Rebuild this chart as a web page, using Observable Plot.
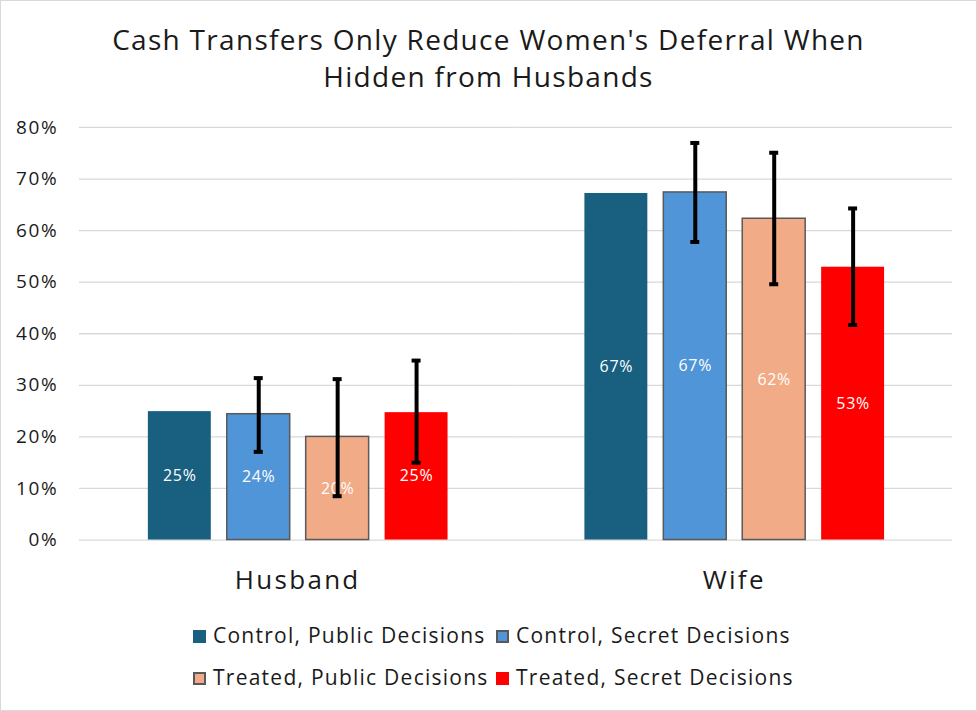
<!DOCTYPE html>
<html>
<head>
<meta charset="utf-8">
<script src="https://cdn.jsdelivr.net/npm/d3@7"></script>
<script src="https://cdn.jsdelivr.net/npm/@observablehq/plot@0.6"></script>
<style>
  body { margin: 0; background: #fff; }
  #frame {
    position: relative; width: 977px; height: 711px; box-sizing: border-box;
    border: 1px solid #d9d9d9; background: #fff; overflow: hidden;
    font-family: "Open Sans", sans-serif; color: #1a1a1a;
  }
  #title {
    position: absolute; left: 0; top: 20px; width: 975px; text-align: center;
    font-size: 28px; line-height: 37px; letter-spacing: 1.3px; color: #1a1a1a;
  }
  #chart { position: absolute; left: -1px; top: 99px; }
  #chart g[aria-label="fx-axis tick label"] { letter-spacing: 2.3px; }
  #chart g[aria-label="y-axis tick label"] { letter-spacing: 1.7px; }
  #chart g[aria-label="text"] { letter-spacing: 0.7px; }
  #legend { position: absolute; left: 192px; top: 619px; }
  .row { display: grid; grid-template-columns: 303px 303px; height: 42px; }
  .item { display: flex; align-items: center; height: 30px; font-size: 21px; letter-spacing: 1.25px; white-space: nowrap; }
  .sw { width: 13px; height: 13px; box-sizing: border-box; margin-right: 7px; margin-top: 2px; }
</style>
</head>
<body>
<div id="frame">
  <div id="title">Cash Transfers Only Reduce Women's Deferral When<br>Hidden from Husbands</div>
  <div id="chart"></div>
  <div id="legend"></div>
</div>
<script>
// Who defers the decision: share by respondent and treatment arm
const groups = ["Husband", "Wife"];
const series = [
  "Control, Public Decisions",
  "Control, Secret Decisions",
  "Treated, Public Decisions",
  "Treated, Secret Decisions"
];
const colors = ["#185F80", "#5095D8", "#F1AB86", "#FF0000"];
const outlined = ["Control, Secret Decisions", "Treated, Public Decisions"];

const husbandValues = [0.249, 0.244, 0.200, 0.247];
const wifeValues = [0.672, 0.674, 0.623, 0.529];
// confidence intervals (no interval reported for the first arm)
const husbandLow = [null, 0.171, 0.085, 0.150];
const husbandHigh = [null, 0.314, 0.312, 0.348];
const wifeLow = [null, 0.578, 0.496, 0.417];
const wifeHigh = [null, 0.770, 0.751, 0.643];

const yTicks = [0, 0.1, 0.2, 0.3, 0.4, 0.5, 0.6, 0.7, 0.8];

const values = [husbandValues, wifeValues];
const lows = [husbandLow, wifeLow];
const highs = [husbandHigh, wifeHigh];

const rows = groups.flatMap((g, gi) => series.map((s, si) => ({
  group: g, series: s, value: values[gi][si], low: lows[gi][si], high: highs[gi][si]
})));
const withCI = rows.filter(d => d.low != null);
const pct = d3.format(".0%");

const chart = Plot.plot({
  width: 977,
  height: 510,
  marginTop: 27,
  marginBottom: 70,
  marginLeft: 79,
  marginRight: 24,
  style: { fontFamily: "Open Sans, sans-serif", background: "transparent", color: "#1a1a1a" },
  fx: { domain: groups, padding: 0, label: null },
  x: { domain: series, paddingInner: 0.2075, paddingOuter: 0.852, axis: null },
  y: { domain: [0, 0.8], label: null },
  color: { domain: series, range: colors },
  marks: [
    Plot.ruleY(yTicks, { stroke: "#d9d9d9", strokeWidth: 1.3 }),
    Plot.axisY({ ticks: yTicks, tickFormat: pct, tickSize: 0, tickPadding: 21, fontSize: 19, label: null, fill: "#1a1a1a" }),
    Plot.axisFx({ anchor: "bottom", tickSize: 0, tickPadding: 31, fontSize: 26, label: null, fill: "#1a1a1a" }),
    Plot.barY(rows, { fx: "group", x: "series", y: "value", fill: "series" }),
    Plot.barY(rows.filter(d => outlined.includes(d.series)), {
      fx: "group", x: "series", y: "value", fill: "none", stroke: "#595959", strokeWidth: 1.5
    }),
    Plot.text(rows, {
      fx: "group", x: "series", y: d => d.value / 2, text: d => pct(d.value),
      fill: "white", fontSize: 16
    }),
    Plot.ruleX(withCI, { fx: "group", x: "series", y1: "low", y2: "high", stroke: "black", strokeWidth: 4 }),
    Plot.tickY(withCI, { fx: "group", x: "series", y: "low", stroke: "black", strokeWidth: 4, inset: 27 }),
    Plot.tickY(withCI, { fx: "group", x: "series", y: "high", stroke: "black", strokeWidth: 4, inset: 27 })
  ]
});
document.getElementById("chart").appendChild(chart);

// Legend: two rows of two swatches
const legend = d3.select("#legend");
for (let r = 0; r < 2; r++) {
  const row = legend.append("div").attr("class", "row");
  for (let c = 0; c < 2; c++) {
    const i = r * 2 + c;
    const item = row.append("div").attr("class", "item");
    item.append("span").attr("class", "sw")
      .style("background", colors[i])
      .style("border", outlined.includes(series[i]) ? "2px solid #595959" : "none");
    item.append("span").text(series[i]);
  }
}
</script>
</body>
</html>
